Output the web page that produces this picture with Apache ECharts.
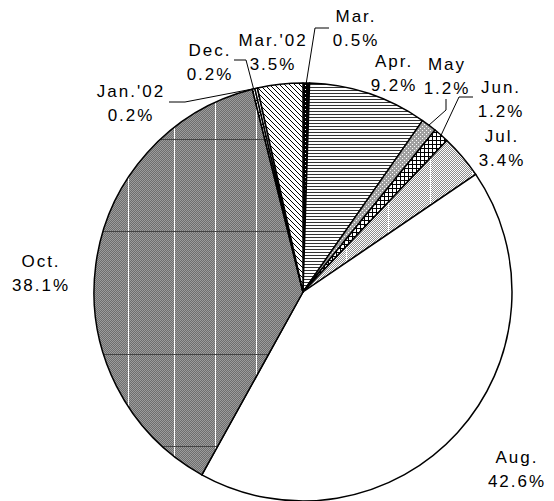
<!DOCTYPE html>
<html><head><meta charset="utf-8">
<script src="https://cdn.jsdelivr.net/npm/echarts@6/dist/echarts.min.js"></script>
<style>html,body{margin:0;background:#fff}#chart{width:554px;height:501px}#chart text{letter-spacing:2px}</style>
</head><body><div id="chart"></div>
<script>
const categories = ['Mar.', 'Apr.', 'May', 'Jun.', 'Jul.', 'Aug.', 'Oct.', 'Dec.', "Jan.'02", "Mar.'02"];
const shares = [0.5, 9.2, 1.2, 1.2, 3.4, 42.6, 38.1, 0.2, 0.2, 3.5];

function tile(w, h, draw) {
  const c = document.createElement('canvas');
  c.width = w; c.height = h;
  const g = c.getContext('2d');
  draw(g, w, h);
  return { image: c, repeat: 'repeat' };
}
function px(g, x, y, col) { g.fillStyle = col; g.fillRect(x, y, 1, 1); }
function checker(g, w, h, a, b) {
  for (let y = 0; y < h; y++) for (let x = 0; x < w; x++) px(g, x, y, (x + y) % 2 ? a : b);
}

const fills = {
  'Mar.': tile(4, 4, g => { g.fillStyle = '#000'; g.fillRect(0, 0, 4, 4); px(g, 1, 1, '#fff'); }),
  'Apr.': tile(4, 3, g => { g.fillStyle = '#fff'; g.fillRect(0, 0, 4, 3); g.fillStyle = '#333'; g.fillRect(0, 0, 4, 1); }),
  'May': tile(4, 4, g => { g.fillStyle = '#a0a0a0'; g.fillRect(0, 0, 4, 4); px(g, 0, 0, '#fff'); px(g, 2, 2, '#fff'); }),
  'Jun.': tile(4, 4, g => { g.fillStyle = '#fff'; g.fillRect(0, 0, 4, 4); g.fillStyle = '#000'; g.fillRect(0, 0, 4, 1); g.fillRect(0, 0, 1, 4); }),
  'Jul.': tile(42, 92, (g, w, h) => { checker(g, w, h, '#8c8c8c', '#ffffff'); g.fillStyle = '#fff'; g.fillRect(10, 0, 1, h); }),
  'Aug.': '#ffffff',
  'Oct.': tile(554, 501, (g, w, h) => {
    checker(g, w, h, '#6e6e6e', '#9c9c9c');
    g.fillStyle = '#fff';
    [128, 174, 215, 256].forEach(x => g.fillRect(x, 0, 1, h));
    g.fillStyle = '#444';
    [139, 231, 354, 446].forEach(y => g.fillRect(0, y, w, 1));
  }),
  'Dec.': tile(3, 3, g => { g.fillStyle = '#fff'; g.fillRect(0, 0, 3, 3); px(g, 1, 1, '#000'); }),
  "Jan.'02": tile(3, 3, g => { g.fillStyle = '#fff'; g.fillRect(0, 0, 3, 3); px(g, 0, 0, '#666'); }),
  "Mar.'02": tile(5, 5, g => { g.fillStyle = '#fff'; g.fillRect(0, 0, 5, 5); for (let i = 0; i < 5; i++) px(g, i, i, '#000'); })
};

// label anchor spots (centre of the two-line block) and leader bends
const labelSpots = {
  'Mar.': { x: 356, y: 28, line: [[315, 28], [329, 28]] },
  'Apr.': { x: 394, y: 73 },
  'May': { x: 447, y: 76, line: [[446, 110], [446, 99]] },
  'Jun.': { x: 501, y: 99, line: [[459, 97], [473, 97]] },
  'Jul.': { x: 502, y: 148 },
  'Aug.': { x: 517, y: 469 },
  'Oct.': { x: 41, y: 273 },
  'Dec.': { x: 210, y: 62, line: [[246, 60], [234, 60]] },
  "Jan.'02": { x: 131, y: 103, line: [[185, 102], [169, 102]] },
  "Mar.'02": { x: 273, y: 52 }
};

const chart = echarts.init(document.getElementById('chart'), null, { renderer: 'svg' });

chart.setOption({
  animation: false,
  backgroundColor: '#ffffff',
  series: [{
    type: 'pie',
    center: [303, 292],
    radius: 209,
    startAngle: 90,
    clockwise: true,
    avoidLabelOverlap: false,
    itemStyle: { borderColor: '#000', borderWidth: 1.5 },
    label: {
      show: true,
      position: 'outside',
      color: '#000',
      fontFamily: 'Liberation Sans, Arial, sans-serif',
      fontSize: 17,
      lineHeight: 24,
      align: 'center',
      formatter: p => p.name + '\n' + p.value.toFixed(1) + '%'
    },
    labelLine: { show: true, length: 10, length2: 10, lineStyle: { color: '#000', width: 1 } },
    labelLayout: function (p) {
      const s = labelSpots[categories[p.dataIndex]];
      const out = { x: s.x, y: s.y, align: 'center', verticalAlign: 'middle' };
      if (s.line && p.labelLinePoints) {
        out.labelLinePoints = [p.labelLinePoints[0]].concat(s.line);
      }
      return out;
    },
    emphasis: { disabled: true },
    data: categories.map((c, i) => ({
      name: c,
      value: shares[i],
      itemStyle: { color: fills[c] },
      labelLine: { show: !!labelSpots[c].line }
    }))
  }]
});
</script>
</body></html>
